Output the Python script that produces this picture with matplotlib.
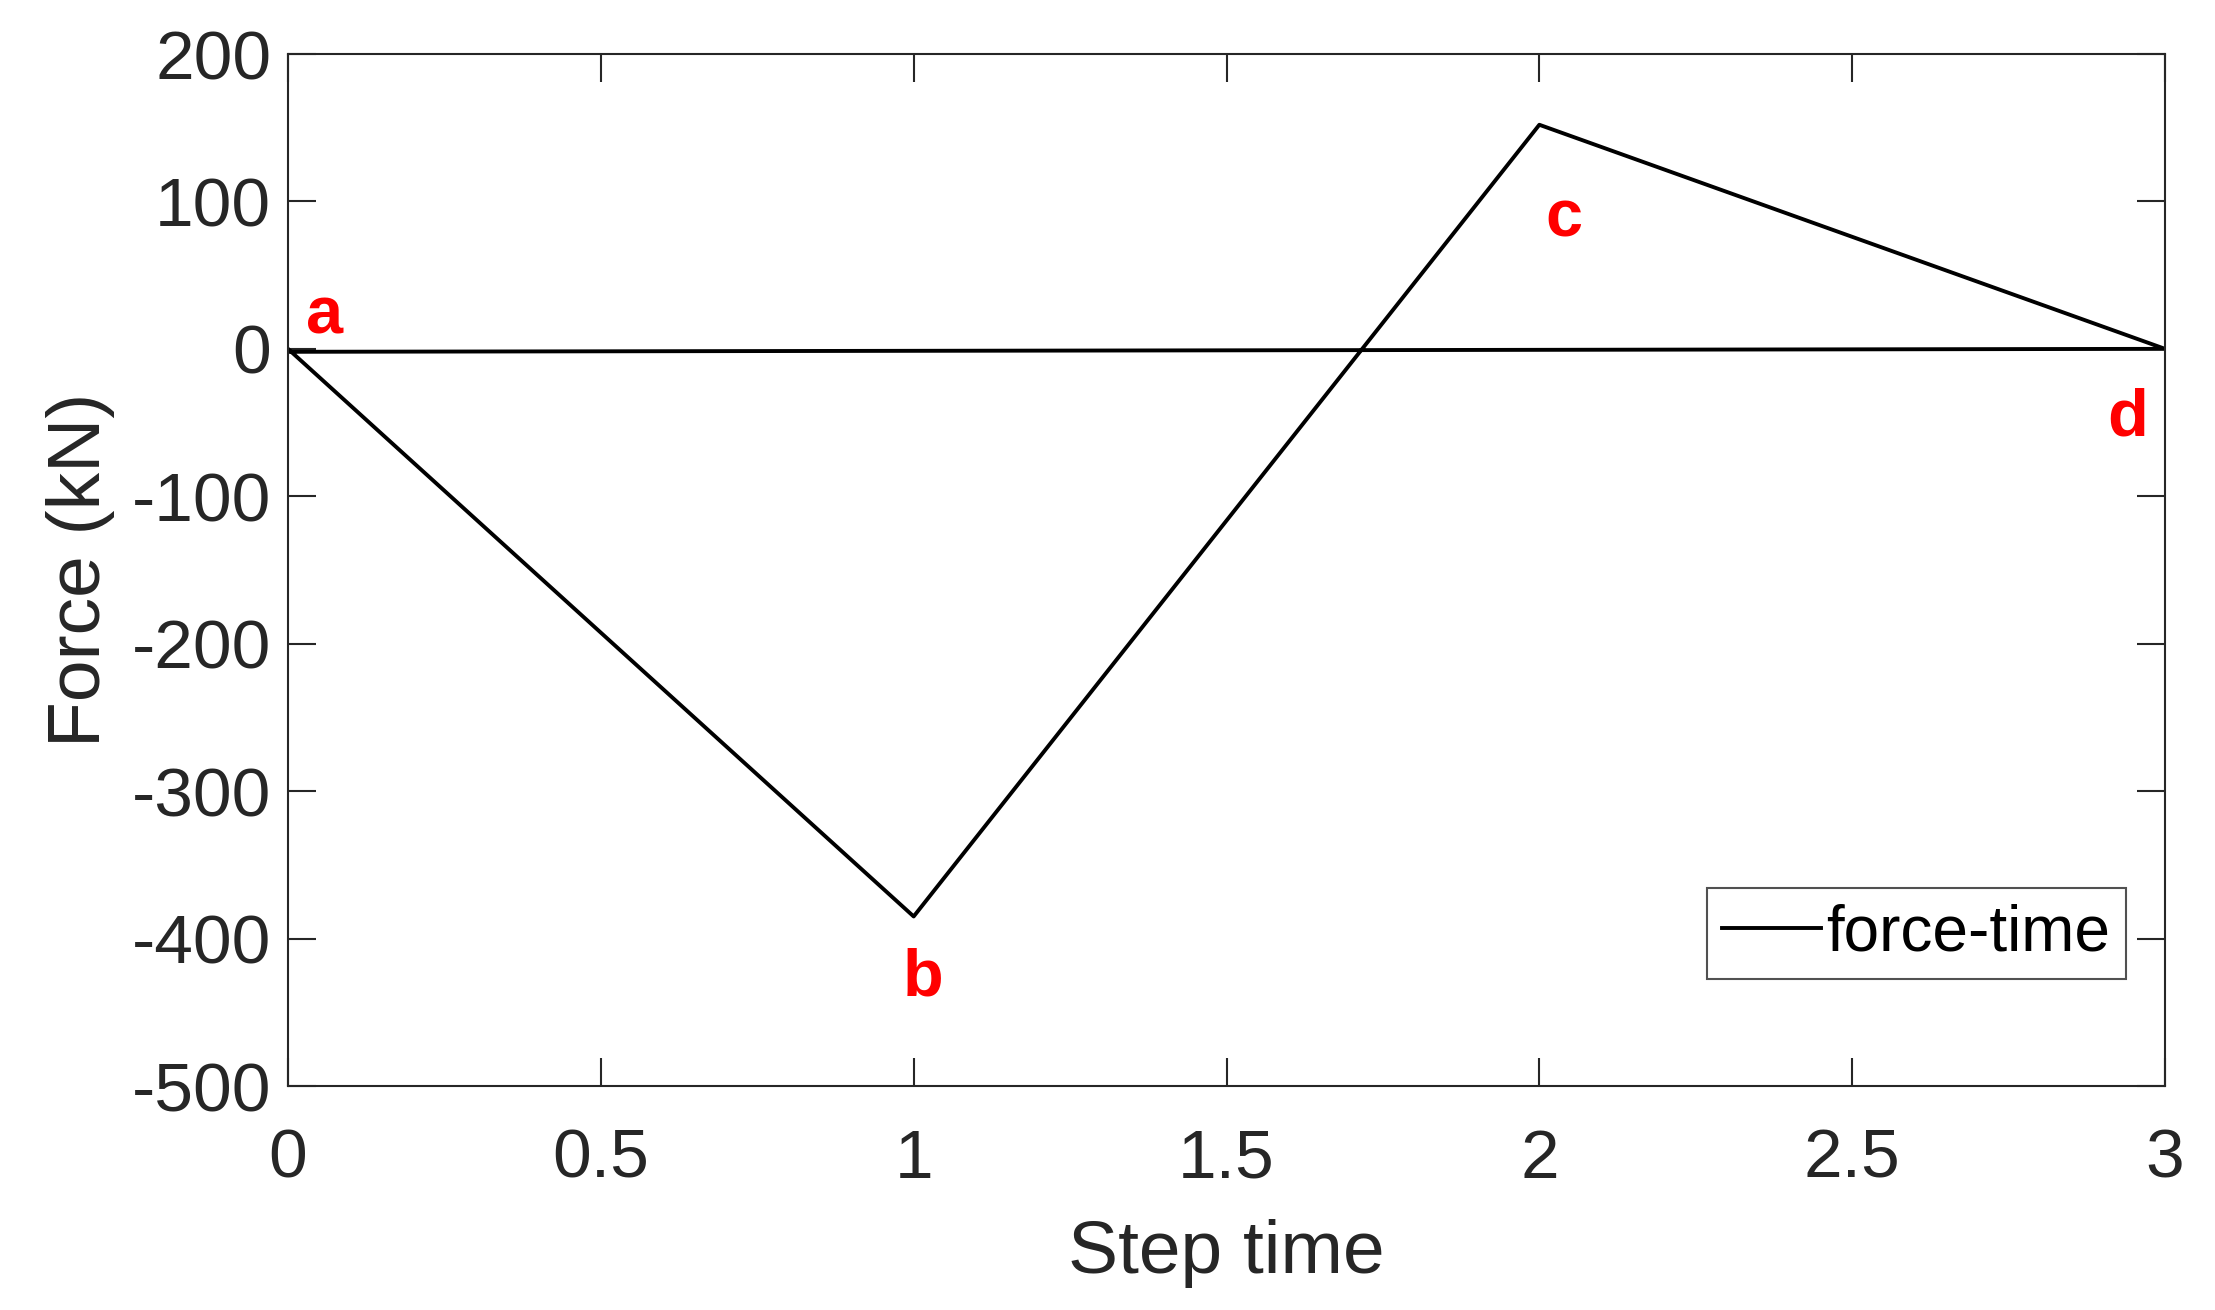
import matplotlib
matplotlib.use("Agg")
import matplotlib.pyplot as plt

# force-time history (last point closes back to the start, as in the source plot)
step_time = [0, 1, 2, 3, 0]
force_kn = [0, -385, 152, 0, -2]

point_names = ["a", "b", "c", "d"]
point_x = [0.058, 1.015, 2.04, 2.94]
point_y = [22, -427, 88, -47]

x_ticks = [0, 0.5, 1, 1.5, 2, 2.5, 3]
x_ticklabels = ["0", "0.5", "1", "1.5", "2", "2.5", "3"]
y_ticks = [-500, -400, -300, -200, -100, 0, 100, 200]

plt.rcParams['font.family'] = ['Liberation Sans', 'DejaVu Sans']
plt.rcParams['axes.unicode_minus'] = False
AX_COL = '#262626'

fig = plt.figure(figsize=(22.15, 13.1), dpi=100)
ax = fig.add_axes([288/2215, 1 - 1086/1310, (2165-288)/2215, (1086-54)/1310])

ax.plot(step_time, force_kn, color='black', lw=2.8, label='force-time')

for name, px, py in zip(point_names, point_x, point_y):
    ax.text(px, py, name, color='red', fontsize=48, fontweight='bold',
            ha='center', va='center')

ax.set_xlim(0, 3)
ax.set_ylim(-500, 200)
ax.set_xticks(x_ticks)
ax.set_xticklabels(x_ticklabels)
ax.set_yticks(y_ticks)

ax.tick_params(direction='in', length=20, width=1.5, colors=AX_COL,
               labelsize=50, top=True, right=True, pad=12)
ax.tick_params(axis='x', pad=30)
for sp in ax.spines.values():
    sp.set_linewidth(1.5)
    sp.set_color(AX_COL)

ax.set_xlabel('Step time', fontsize=54, color=AX_COL, labelpad=20)
ax.set_ylabel('Force (kN)', fontsize=54, color=AX_COL, labelpad=12)

leg = ax.legend(loc='lower right', bbox_to_anchor=(0.979, 0.104), fontsize=46,
                frameon=True, fancybox=False, handlelength=1.55, handletextpad=0.08,
                borderpad=0.24, borderaxespad=0)
leg.get_frame().set_edgecolor(AX_COL)
leg.get_frame().set_linewidth(1.5)

fig.savefig('out.png', dpi=100)
